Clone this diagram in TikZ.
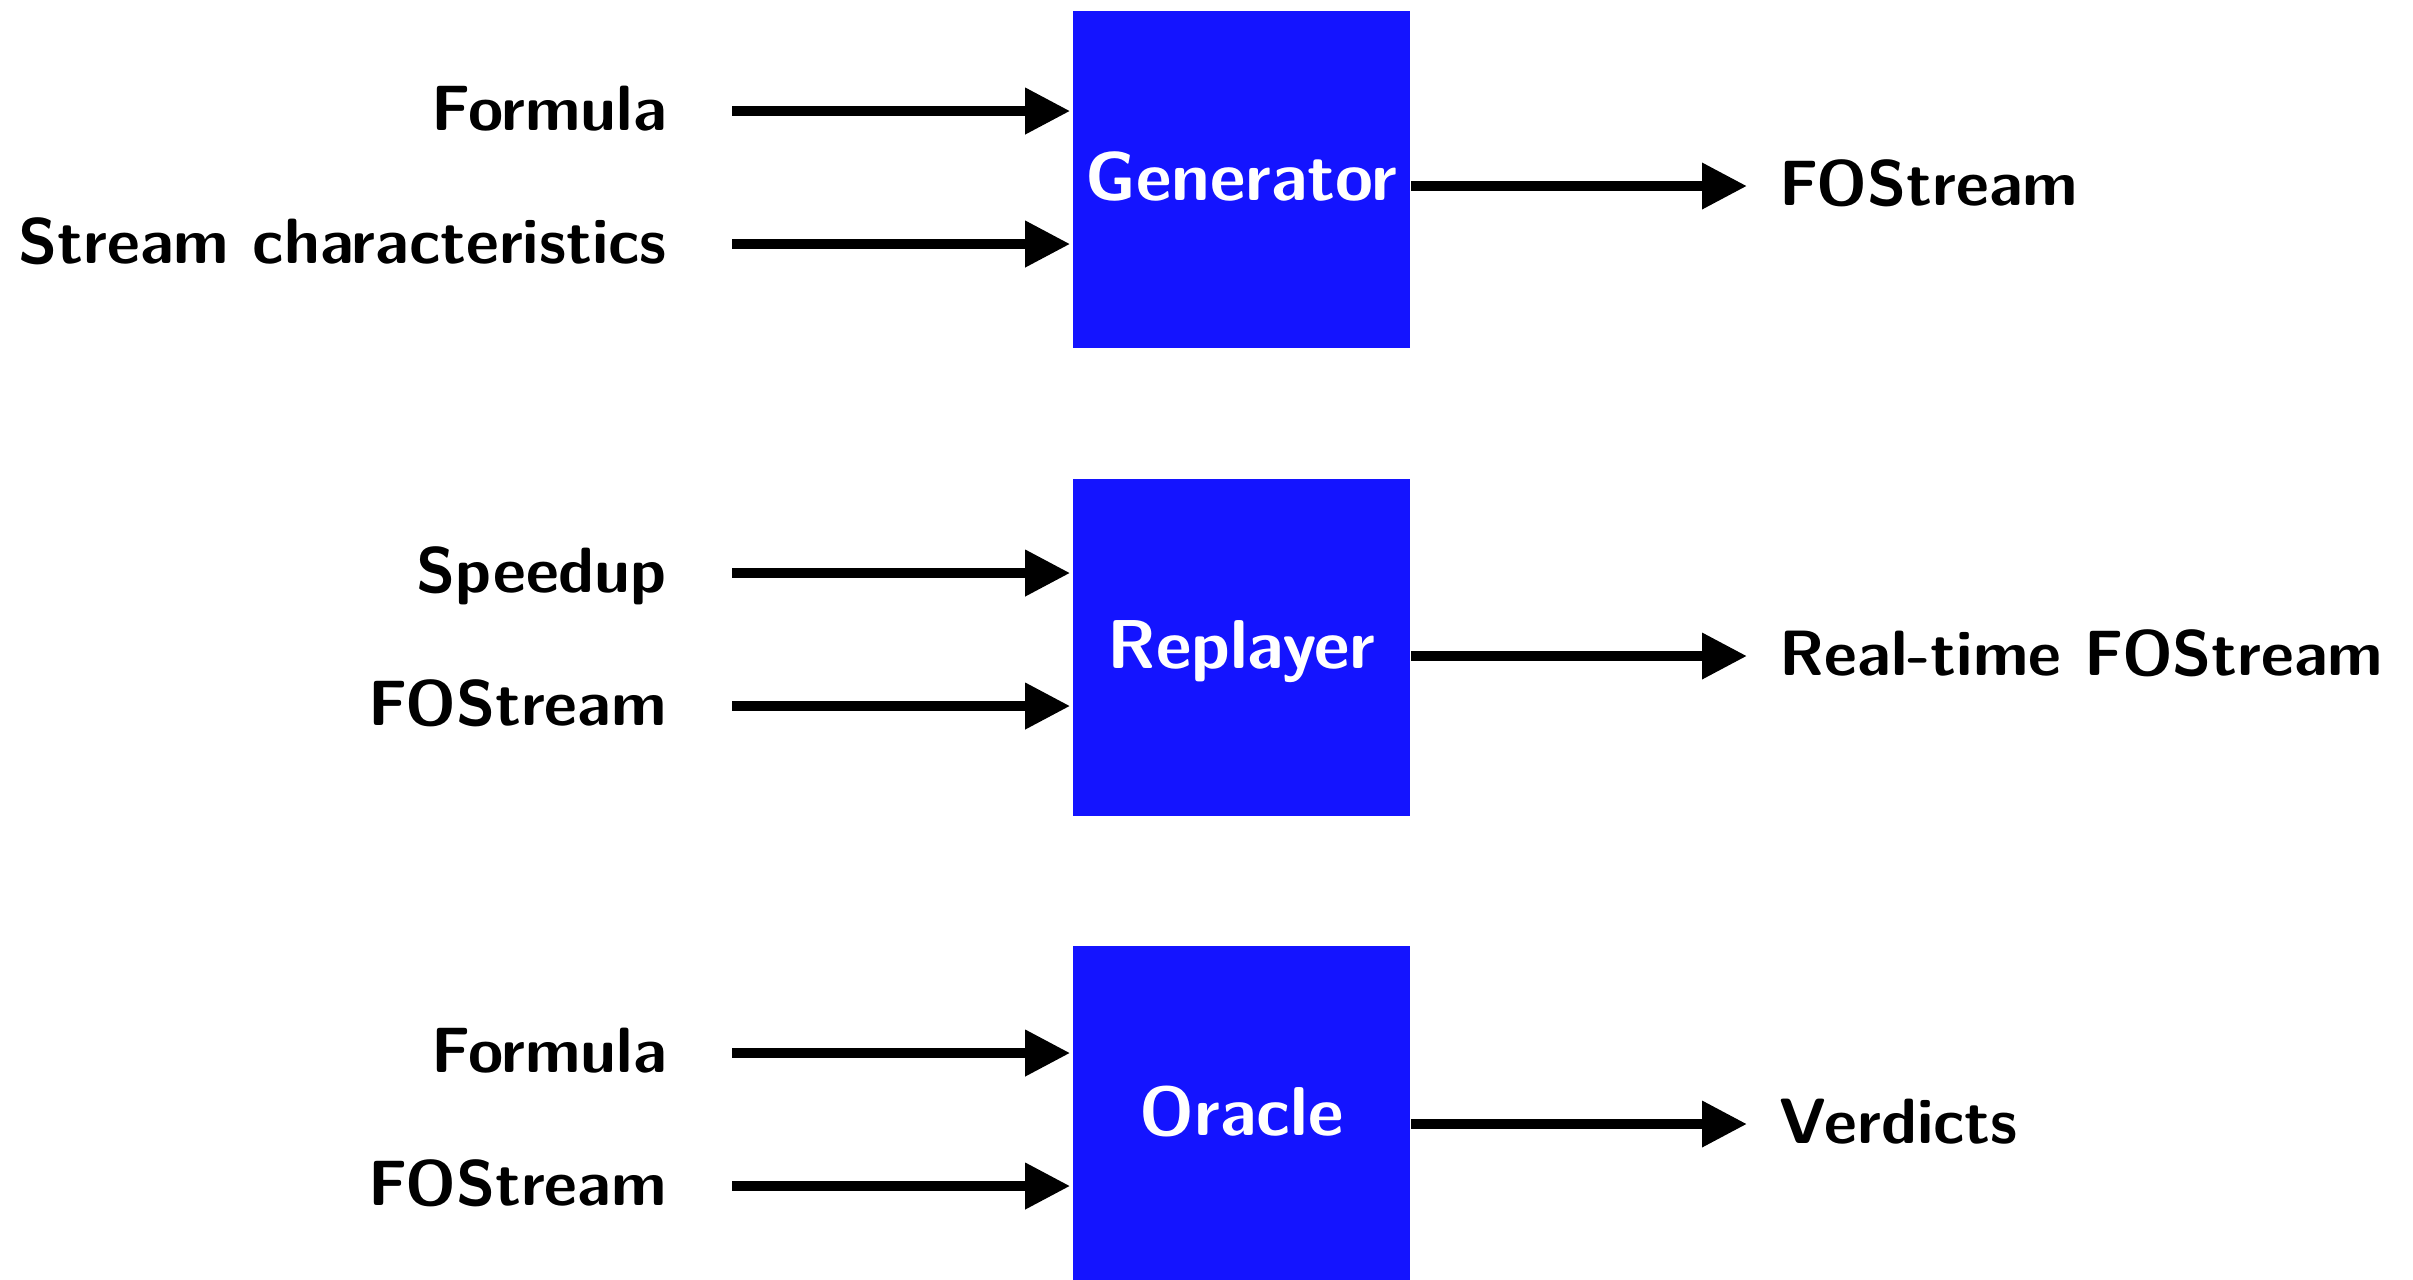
\documentclass[tikz,border=0pt]{standalone}
\usetikzlibrary{arrows.meta}
\definecolor{boxblue}{RGB}{20,20,255}
\begin{document}
\begin{tikzpicture}[x=0.25pt,y=-0.25pt,
  box/.style={fill=boxblue,draw=none,minimum width=84.25pt,minimum height=84.25pt,inner sep=0pt,
    text=white,font=\fontsize{17.28}{21}\sffamily\bfseries\selectfont,text height=10.5pt,text depth=0pt},
  lab/.style={inner sep=0pt,font=\fontsize{16}{19}\sffamily\bfseries\selectfont},
  arr/.style={line width=2.5pt,-{Triangle[length=11.25pt,width=11pt]}}]
\useasboundingbox (0,0) rectangle (2413,1279);
% boxes
\node[box] (gen) at (1241.5,179.5) {Generator};
\node[box] (rep) at (1241.5,647.5) {Replayer};
\node[box] (ora) at (1241.5,1114.5) {Oracle};
% input start points
\coordinate (g1) at (732,111);
\coordinate (g2) at (732,244);
\coordinate (r1) at (732,573);
\coordinate (r2) at (732,706);
\coordinate (o1) at (732,1053);
\coordinate (o2) at (732,1186);
% output end points
\coordinate (go) at (1747,186);
\coordinate (ro) at (1747,656);
\coordinate (oo) at (1747,1124);
% input labels
\node[lab,anchor=base east] (lg1) at (667.5,130) {Formula};
\node[lab,anchor=base east] (lg2) at (667.5,263) {Stream characteristics};
\node[lab,anchor=base east] (lr1) at (667.5,592) {Speedup};
\node[lab,anchor=base east] (lr2) at (667.5,725) {FOStream};
\node[lab,anchor=base east] (lo1) at (667.5,1072) {Formula};
\node[lab,anchor=base east] (lo2) at (667.5,1205) {FOStream};
% output labels
\node[lab,anchor=base west] (lgo) at (1779,205) {FOStream};
\node[lab,anchor=base west] (lro) at (1779,675) {Real-time FOStream};
\node[lab,anchor=base west] (loo) at (1779,1143) {Verdicts};
% arrows
\foreach \s/\b in {g1/gen,g2/gen,r1/rep,r2/rep,o1/ora,o2/ora}
  \draw[arr,shorten >=0.5pt] (\s) -- (\s -| \b.west);
\draw[arr] (gen.east |- go) -- (go);
\draw[arr] (rep.east |- ro) -- (ro);
\draw[arr] (ora.east |- oo) -- (oo);
\end{tikzpicture}
\end{document}
